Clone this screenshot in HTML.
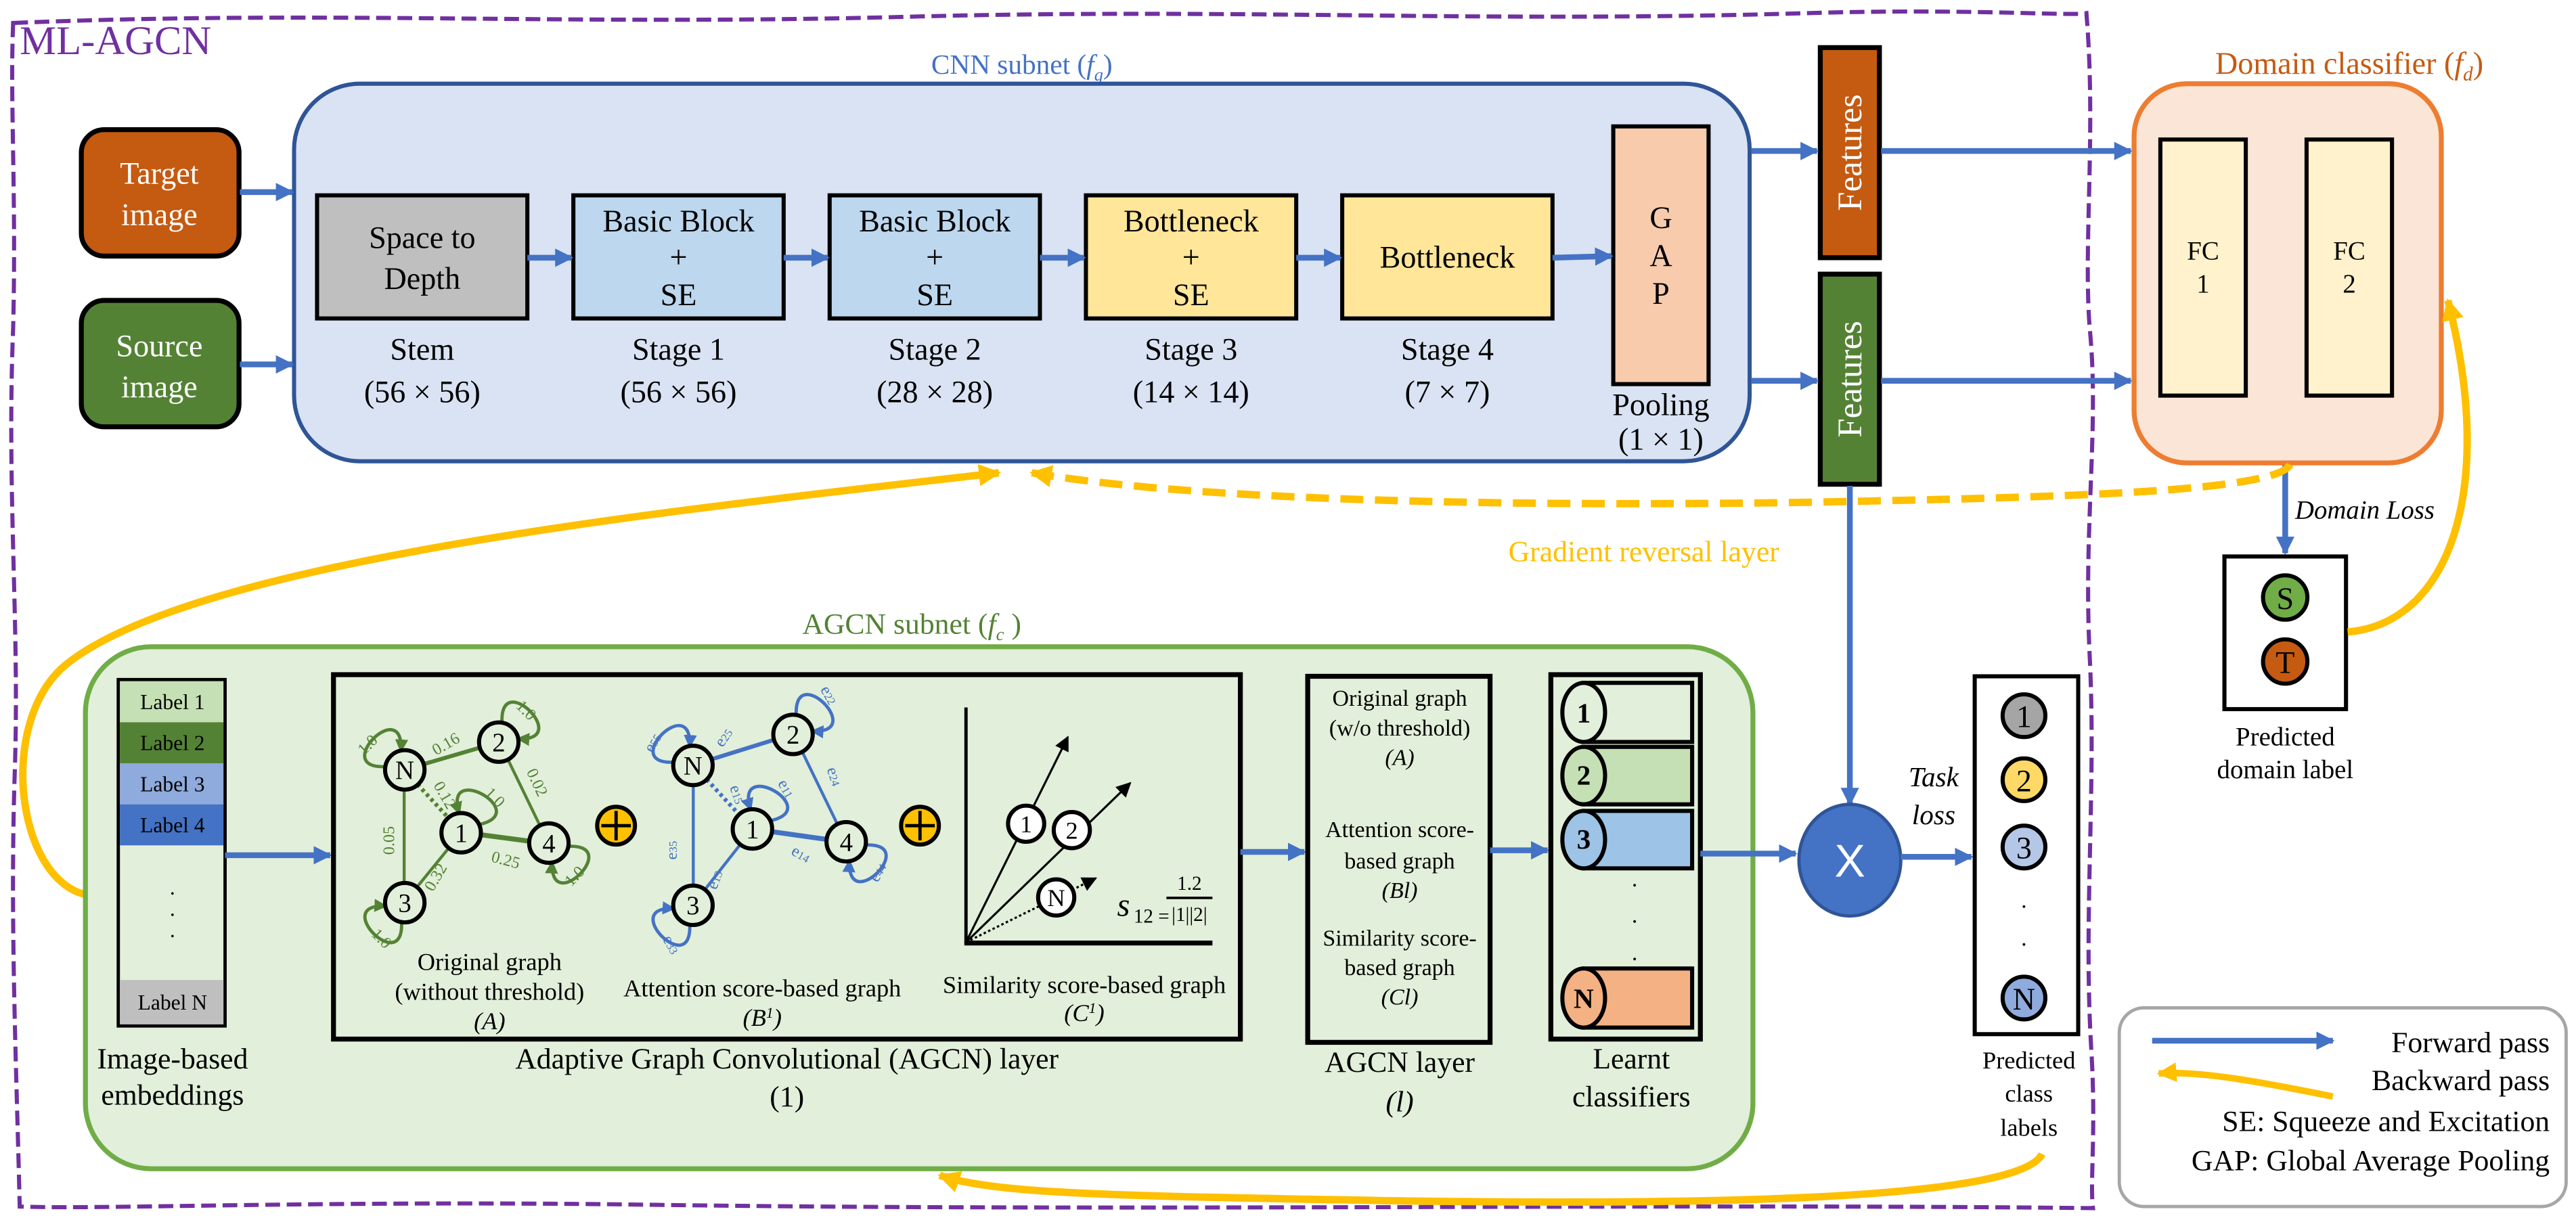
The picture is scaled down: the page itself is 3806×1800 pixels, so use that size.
<!DOCTYPE html>
<html><head><meta charset="utf-8"><style>
html,body{margin:0;padding:0;background:#fff;}
svg{display:block;}
svg text{font-family:"Liberation Serif","DejaVu Serif",serif !important;}
</style></head><body>
<svg width="3806" height="1800" viewBox="0 0 1568 742" preserveAspectRatio="none" xmlns="http://www.w3.org/2000/svg" font-family="Liberation Serif, serif">
<defs>
<marker id="ab" viewBox="0 0 10 10" refX="9" refY="5" markerWidth="3.2" markerHeight="3.2" orient="auto" markerUnits="strokeWidth"><path d="M0,0 L10,5 L0,10 z" fill="#4472C4"/></marker>
<marker id="ay" viewBox="0 0 10 10" refX="9" refY="5" markerWidth="3" markerHeight="3" orient="auto" markerUnits="strokeWidth"><path d="M0,0 L10,5 L0,10 z" fill="#FFC000"/></marker>
<marker id="ag" viewBox="0 0 10 10" refX="9" refY="5" markerWidth="4" markerHeight="4" orient="auto" markerUnits="strokeWidth"><path d="M0,0 L10,5 L0,10 z" fill="#548235"/></marker>
<marker id="al" viewBox="0 0 10 10" refX="9" refY="5" markerWidth="4" markerHeight="4" orient="auto" markerUnits="strokeWidth"><path d="M0,0 L10,5 L0,10 z" fill="#4472C4"/></marker>
<marker id="ak" viewBox="0 0 10 10" refX="9" refY="5" markerWidth="7" markerHeight="7" orient="auto" markerUnits="strokeWidth"><path d="M0,0 L10,5 L0,10 z" fill="#000"/></marker>
</defs>

<path d="M8,14 C200,6 350,16 560,10 C760,5 900,14 1100,8 C1200,5 1260,10 1270,8 C1276,80 1268,150 1272,200 C1278,260 1268,320 1272,400 C1276,480 1268,560 1273,640 C1276,690 1272,720 1274,736 C1000,733 700,738 400,734 C200,731 60,737 12,735 C10,650 6,560 9,470 C12,380 4,300 8,200 C10,120 6,60 8,14 Z" fill="none" stroke="#7030A0" stroke-width="2.5" stroke-dasharray="9,4"/>
<text x="12" y="33" font-size="25" fill="#7030A0">ML-AGCN</text>

<text x="622" y="45" font-size="17" fill="#4472C4" text-anchor="middle">CNN subnet (<tspan font-style="italic">f</tspan><tspan font-size="11" font-style="italic" dy="4">g</tspan><tspan dy="-4">)</tspan></text>
<rect x="179" y="51" width="886" height="230" rx="40" fill="#DAE3F3" stroke="#2F5597" stroke-width="2.5"/>

<rect x="49.5" y="79" width="96" height="77" rx="14" fill="#C55A11" stroke="#000" stroke-width="3"/>
<text x="97" y="112" font-size="19" fill="#fff" text-anchor="middle">Target</text>
<text x="97" y="137" font-size="19" fill="#fff" text-anchor="middle">image</text>
<rect x="49.5" y="183" width="96" height="77" rx="14" fill="#548235" stroke="#000" stroke-width="3"/>
<text x="97" y="217" font-size="19" fill="#fff" text-anchor="middle">Source</text>
<text x="97" y="242" font-size="19" fill="#fff" text-anchor="middle">image</text>
<line x1="146" y1="117" x2="178" y2="117" stroke="#4472C4" stroke-width="3.5" marker-end="url(#ab)"/>
<line x1="146" y1="222" x2="178" y2="222" stroke="#4472C4" stroke-width="3.5" marker-end="url(#ab)"/>

<g stroke="#000" stroke-width="2.5">
<rect x="193" y="119" width="128" height="75" fill="#BFBFBF"/>
<rect x="349" y="119" width="128" height="75" fill="#BDD7EE"/>
<rect x="505" y="119" width="128" height="75" fill="#BDD7EE"/>
<rect x="661" y="119" width="128" height="75" fill="#FFE699"/>
<rect x="817" y="119" width="128" height="75" fill="#FFE699"/>
<rect x="982" y="77" width="58" height="157" fill="#F8CBAD"/>
</g>
<g stroke="#4472C4" stroke-width="3.5" marker-end="url(#ab)">
<line x1="321" y1="157" x2="348" y2="157"/>
<line x1="477" y1="157" x2="504" y2="157"/>
<line x1="633" y1="157" x2="660" y2="157"/>
<line x1="789" y1="157" x2="816" y2="157"/>
<line x1="945" y1="157" x2="981" y2="156"/>
</g>
<g font-size="19" text-anchor="middle">
<text x="257" y="151">Space to</text><text x="257" y="176">Depth</text>
<text x="413" y="141">Basic Block</text><text x="413" y="163">+</text><text x="413" y="186">SE</text>
<text x="569" y="141">Basic Block</text><text x="569" y="163">+</text><text x="569" y="186">SE</text>
<text x="725" y="141">Bottleneck</text><text x="725" y="163">+</text><text x="725" y="186">SE</text>
<text x="881" y="163">Bottleneck</text>
<text x="1011" y="139">G</text><text x="1011" y="162">A</text><text x="1011" y="185">P</text>
<text x="257" y="219">Stem</text><text x="257" y="245">(56 × 56)</text>
<text x="413" y="219">Stage 1</text><text x="413" y="245">(56 × 56)</text>
<text x="569" y="219">Stage 2</text><text x="569" y="245">(28 × 28)</text>
<text x="725" y="219">Stage 3</text><text x="725" y="245">(14 × 14)</text>
<text x="881" y="219">Stage 4</text><text x="881" y="245">(7 × 7)</text>
<text x="1011" y="253">Pooling</text><text x="1011" y="274">(1 × 1)</text>
</g>

<rect x="1108" y="29" width="36" height="128" fill="#C55A11" stroke="#000" stroke-width="3"/>
<rect x="1108" y="167" width="36" height="128" fill="#548235" stroke="#000" stroke-width="3"/>
<text transform="translate(1133,93) rotate(-90)" font-size="21" fill="#fff" text-anchor="middle">Features</text>
<text transform="translate(1133,231) rotate(-90)" font-size="21" fill="#fff" text-anchor="middle">Features</text>
<g stroke="#4472C4" stroke-width="3.5" marker-end="url(#ab)">
<line x1="1066" y1="92" x2="1106" y2="92"/>
<line x1="1066" y1="232" x2="1106" y2="232"/>
<line x1="1145" y1="92" x2="1297" y2="92"/>
<line x1="1145" y1="232" x2="1297" y2="232"/>
<line x1="1126" y1="296" x2="1126" y2="490"/>
<line x1="1391" y1="283" x2="1391" y2="337"/>
</g>

<text x="1430" y="45" font-size="19" fill="#C55A11" text-anchor="middle">Domain classifier (<tspan font-style="italic">f</tspan><tspan font-size="12" font-style="italic" dy="4">d</tspan><tspan dy="-4">)</tspan></text>
<rect x="1299" y="51" width="187" height="231" rx="32" fill="#FBE5D6" stroke="#ED7D31" stroke-width="3"/>
<rect x="1315" y="85" width="52" height="156" fill="#FFF2CC" stroke="#000" stroke-width="2.5"/>
<rect x="1404" y="85" width="52" height="156" fill="#FFF2CC" stroke="#000" stroke-width="2.5"/>
<g font-size="16" text-anchor="middle"><text x="1341" y="158">FC</text><text x="1341" y="178">1</text><text x="1430" y="158">FC</text><text x="1430" y="178">2</text></g>
<text x="1397" y="316" font-size="16" font-style="italic">Domain Loss</text>
<rect x="1354" y="339" width="74" height="93" fill="#fff" stroke="#000" stroke-width="2.5"/>
<circle cx="1391" cy="364" r="13.5" fill="#70AD47" stroke="#000" stroke-width="2.5"/>
<circle cx="1391" cy="403" r="13.5" fill="#C55A11" stroke="#000" stroke-width="2.5"/>
<text x="1391" y="371" font-size="19" text-anchor="middle">S</text>
<text x="1391" y="410" font-size="19" text-anchor="middle">T</text>
<text x="1391" y="454" font-size="16" text-anchor="middle">Predicted</text>
<text x="1391" y="474" font-size="16" text-anchor="middle">domain label</text>
<path d="M1429,385 C1490,380 1520,300 1490,183" fill="none" stroke="#FFC000" stroke-width="4.5" marker-end="url(#ay)"/>

<path d="M1394,283 C1385,300 1250,303 1100,306 C900,309 720,304 628,288" fill="none" stroke="#FFC000" stroke-width="4.5" stroke-dasharray="14,7" marker-end="url(#ay)"/>
<text x="1083" y="342" font-size="18" fill="#FFC000" text-anchor="end">Gradient reversal layer</text>
<path d="M52,545 C10,535 -2,440 40,405 C120,340 420,310 608,288" fill="none" stroke="#FFC000" stroke-width="4.5" marker-end="url(#ay)"/>

<text x="555" y="386" font-size="18" fill="#548235" text-anchor="middle">AGCN subnet (<tspan font-style="italic">f</tspan><tspan font-size="11" font-style="italic" dy="4">c</tspan><tspan dy="-4"> )</tspan></text>
<rect x="52" y="394" width="1015" height="318" rx="40" fill="#E2EFDA" stroke="#70AD47" stroke-width="3"/>

<rect x="72" y="414" width="65" height="211" fill="#E2EFDA" stroke="#000" stroke-width="2"/>
<rect x="73" y="415" width="63" height="25" fill="#C5E0B4"/>
<rect x="73" y="440" width="63" height="25" fill="#548235"/>
<rect x="73" y="465" width="63" height="25" fill="#8FAADC"/>
<rect x="73" y="490" width="63" height="25" fill="#4472C4"/>
<rect x="73" y="597" width="63" height="27" fill="#BFBFBF"/>
<g font-size="13" text-anchor="middle">
<text x="105" y="432">Label 1</text><text x="105" y="457">Label 2</text><text x="105" y="482">Label 3</text><text x="105" y="507">Label 4</text><text x="105" y="615">Label N</text>
<text x="105" y="545">.</text><text x="105" y="558">.</text><text x="105" y="571">.</text>
</g>
<text x="105" y="651" font-size="18" text-anchor="middle">Image-based</text>
<text x="105" y="673" font-size="18" text-anchor="middle">embeddings</text>
<line x1="137" y1="521" x2="201" y2="521" stroke="#4472C4" stroke-width="3.5" marker-end="url(#ab)"/>

<rect x="203" y="411" width="552" height="222" fill="#E2EFDA" stroke="#000" stroke-width="3"/>

<g stroke="#548235" fill="none">
<line x1="246" y1="469" x2="304" y2="452" stroke-width="2.5"/>
<line x1="246" y1="469" x2="281" y2="507" stroke-width="2.5" stroke-dasharray="2,2"/>
<line x1="246" y1="469" x2="246" y2="550" stroke-width="1.8"/>
<line x1="304" y1="452" x2="334" y2="514" stroke-width="1.8"/>
<line x1="281" y1="507" x2="334" y2="514" stroke-width="3"/>
<line x1="281" y1="507" x2="246" y2="550" stroke-width="1.8"/>
<g stroke-width="2" marker-end="url(#ag)">
<path d="M234.7,467 C200.4,468.7 246.4,422.7 244,457.7"/>
<path d="M305.6,440.7 C303.6,406 349.6,452.1 315,450"/>
<path d="M291.1,502.4 C325.1,495.4 268.8,462.9 279.7,495.8"/>
<path d="M345.4,515.6 C380.1,513.6 334.1,559.6 336.1,524.9"/>
<path d="M244.4,561.3 C246.4,595.9 200.4,549.9 235.1,552"/>
</g></g>
<g font-size="10" fill="#548235" text-anchor="middle">
<text transform="translate(273,456) rotate(-30)">0.16</text>
<text transform="translate(268,486) rotate(60)">0.12</text>
<text transform="translate(240,512) rotate(-90)">0.05</text>
<text transform="translate(324,478) rotate(65)">0.02</text>
<text transform="translate(307,527) rotate(15)">0.25</text>
<text transform="translate(268,536) rotate(-60)">0.32</text>
<text transform="translate(226,456) rotate(-45)">1.0</text>
<text transform="translate(318,435) rotate(45)">1.0</text>
<text transform="translate(299,488) rotate(45)">1.0</text>
<text transform="translate(352,536) rotate(-45)">1.0</text>
<text transform="translate(230,574) rotate(45)">1.0</text>
</g>
<g fill="#E2EFDA" stroke="#000" stroke-width="2.5">
<circle cx="246.4" cy="469" r="12"/><circle cx="303.6" cy="452.1" r="12"/><circle cx="280.7" cy="507.3" r="12"/><circle cx="334.1" cy="513.6" r="12"/><circle cx="246.4" cy="549.9" r="12"/>
</g>
<g font-size="16" text-anchor="middle">
<text x="246.4" y="474.5">N</text><text x="303.6" y="457.6">2</text><text x="280.7" y="512.8">1</text><text x="334.1" y="519.1">4</text><text x="246.4" y="555.4">3</text>
</g>

<g stroke="#4472C4" fill="none">
<line x1="422" y1="466" x2="483" y2="447" stroke-width="2.5"/>
<line x1="422" y1="466" x2="458" y2="505" stroke-width="2.5" stroke-dasharray="2,2"/>
<line x1="422" y1="466" x2="422" y2="551" stroke-width="1.8"/>
<line x1="483" y1="447" x2="515" y2="513" stroke-width="1.8"/>
<line x1="458" y1="505" x2="515" y2="513" stroke-width="3"/>
<line x1="458" y1="505" x2="422" y2="551" stroke-width="1.8"/>
<g stroke-width="2" marker-end="url(#al)">
<path d="M410.5,464.3 C375.8,466.3 421.8,420.3 419.8,455"/>
<path d="M484.7,436.1 C482.7,401.4 528.7,447.4 494,445.4"/>
<path d="M468.4,500.1 C502.4,493.1 446.1,460.6 457,493.5"/>
<path d="M526.4,514.8 C561.1,512.8 515.1,558.8 517.1,524.1"/>
<path d="M419.8,562.8 C421.8,597.5 375.8,551.5 410.5,553.5"/>
</g></g>
<g font-size="10" fill="#4472C4" text-anchor="middle">
<text transform="translate(443,451) rotate(-55)">e<tspan font-size="7">25</tspan></text>
<text transform="translate(446,485) rotate(70)">e<tspan font-size="7">15</tspan></text>
<text transform="translate(412,518) rotate(-90)">e<tspan font-size="7">35</tspan></text>
<text transform="translate(505,474) rotate(72)">e<tspan font-size="7">24</tspan></text>
<text transform="translate(486,523) rotate(30)">e<tspan font-size="7">14</tspan></text>
<text transform="translate(438,537) rotate(-70)">e<tspan font-size="7">13</tspan></text>
<text transform="translate(400,454) rotate(-60)">e<tspan font-size="7">55</tspan></text>
<text transform="translate(502,425) rotate(60)">e<tspan font-size="7">22</tspan></text>
<text transform="translate(476,482) rotate(60)">e<tspan font-size="7">11</tspan></text>
<text transform="translate(537,533) rotate(-60)">e<tspan font-size="7">44</tspan></text>
<text transform="translate(406,577) rotate(60)">e<tspan font-size="7">33</tspan></text>
</g>
<g fill="#E2EFDA" stroke="#000" stroke-width="2.5">
<circle cx="421.8" cy="466.3" r="12"/><circle cx="482.7" cy="447.4" r="12"/><circle cx="458" cy="505" r="12"/><circle cx="515.1" cy="512.8" r="12"/><circle cx="421.8" cy="551.5" r="12"/>
</g>
<g font-size="16" text-anchor="middle">
<text x="421.8" y="471.8">N</text><text x="482.7" y="452.9">2</text><text x="458" y="510.5">1</text><text x="515.1" y="518.3">4</text><text x="421.8" y="557">3</text>
</g>

<g stroke="#000" stroke-width="2.5">
<circle cx="375" cy="503" r="11.5" fill="#FFC000"/><path d="M366,503 H384 M375,494 V512" fill="none" stroke-width="2"/>
<circle cx="560" cy="503" r="11.5" fill="#FFC000"/><path d="M551,503 H569 M560,494 V512" fill="none" stroke-width="2"/>
<circle cx="852" cy="481" r="11.5" fill="#FFC000"/><path d="M843,481 H861 M852,472 V490" fill="none" stroke-width="2"/>
<circle cx="852" cy="563" r="11.5" fill="#FFC000"/><path d="M843,563 H861 M852,554 V572" fill="none" stroke-width="2"/>
</g>

<line x1="588" y1="431" x2="588" y2="575" stroke="#000" stroke-width="2"/>
<line x1="587" y1="574.5" x2="738" y2="574.5" stroke="#000" stroke-width="3"/>
<line x1="588" y1="574" x2="650" y2="449" stroke="#000" stroke-width="1.3" marker-end="url(#ak)"/>
<line x1="588" y1="574" x2="688" y2="477" stroke="#000" stroke-width="1.3" marker-end="url(#ak)"/>
<line x1="588" y1="574" x2="667" y2="535" stroke="#000" stroke-width="1.3" stroke-dasharray="1.5,1.5" marker-end="url(#ak)"/>
<g fill="#fff" stroke="#000" stroke-width="2.5">
<circle cx="624.6" cy="501.8" r="11"/><circle cx="652.4" cy="505.7" r="11"/><circle cx="642.9" cy="546.7" r="11"/>
</g>
<g font-size="15" text-anchor="middle">
<text x="624.6" y="507">1</text><text x="652.4" y="511">2</text><text x="642.9" y="552">N</text>
</g>
<text x="680" y="558" font-size="20" font-style="italic">s</text>
<text x="690" y="562" font-size="12">12 =</text>
<text x="724" y="542" font-size="12" text-anchor="middle">1.2</text>
<line x1="710" y1="547" x2="738" y2="547" stroke="#000" stroke-width="1.5"/>
<text x="724" y="561" font-size="12" text-anchor="middle">|1||2|</text>

<g font-size="15" text-anchor="middle">
<text x="298" y="591">Original graph</text><text x="298" y="609">(without threshold)</text><text x="298" y="627" font-style="italic">(A)</text>
<text x="464" y="607">Attention score-based graph</text><text x="464" y="625" font-style="italic">(B<tspan font-size="9" dy="-5">1</tspan><tspan dy="5">)</tspan></text>
<text x="660" y="605">Similarity score-based graph</text><text x="660" y="622" font-style="italic">(C<tspan font-size="9" dy="-5">1</tspan><tspan dy="5">)</tspan></text>
</g>
<text x="479" y="651" font-size="18" text-anchor="middle">Adaptive Graph Convolutional (AGCN) layer</text>
<text x="479" y="674" font-size="18" text-anchor="middle">(1)</text>

<line x1="755" y1="519" x2="794" y2="519" stroke="#4472C4" stroke-width="3.5" marker-end="url(#ab)"/>

<rect x="796" y="412" width="111" height="223" fill="#E2EFDA" stroke="#000" stroke-width="3"/>
<g font-size="14" text-anchor="middle">
<text x="852" y="430">Original graph</text><text x="852" y="448">(w/o threshold)</text><text x="852" y="466" font-style="italic">(A)</text>
<text x="852" y="510">Attention score-</text><text x="852" y="529">based graph</text><text x="852" y="547" font-style="italic">(Bl)</text>
<text x="852" y="576">Similarity score-</text><text x="852" y="594">based graph</text><text x="852" y="612" font-style="italic">(Cl)</text>
</g>
<text x="852" y="653" font-size="18" text-anchor="middle">AGCN layer</text>
<text x="852" y="677" font-size="18" text-anchor="middle" font-style="italic">(l)</text>
<line x1="907" y1="518" x2="942" y2="518" stroke="#4472C4" stroke-width="3.5" marker-end="url(#ab)"/>

<rect x="944" y="411" width="91" height="222" fill="#E2EFDA" stroke="#000" stroke-width="3"/>
<g stroke="#000" stroke-width="2.5">
<rect x="964" y="416" width="66" height="36" fill="#E2EFDA"/><ellipse cx="964" cy="434" rx="13" ry="18" fill="#E2EFDA"/>
<rect x="964" y="455" width="66" height="35" fill="#C5E0B4"/><ellipse cx="964" cy="472.5" rx="13" ry="17.5" fill="#C5E0B4"/>
<rect x="964" y="494" width="66" height="35" fill="#9DC3E6"/><ellipse cx="964" cy="511.5" rx="13" ry="17.5" fill="#9DC3E6"/>
<rect x="964" y="590" width="66" height="36" fill="#F4B183"/><ellipse cx="964" cy="608" rx="13" ry="18" fill="#F4B183"/>
</g>
<g font-size="17" font-weight="bold" text-anchor="middle">
<text x="964" y="440">1</text><text x="964" y="478">2</text><text x="964" y="517">3</text><text x="964" y="614">N</text>
</g>
<g font-size="14" text-anchor="middle"><text x="995" y="540">.</text><text x="995" y="562">.</text><text x="995" y="585">.</text></g>
<text x="993" y="651" font-size="18" text-anchor="middle">Learnt</text>
<text x="993" y="674" font-size="18" text-anchor="middle">classifiers</text>
<line x1="1035" y1="520" x2="1093" y2="520" stroke="#4472C4" stroke-width="3.5" marker-end="url(#ab)"/>

<ellipse cx="1126" cy="524" rx="31" ry="34" fill="#4472C4" stroke="#2F5597" stroke-width="2"/>
<text x="1126" y="534" font-size="28" fill="#fff" text-anchor="middle" font-family="Liberation Sans, sans-serif" style="font-family:'Liberation Sans',sans-serif !important">X</text>
<text x="1177" y="479" font-size="17" font-style="italic" text-anchor="middle">Task</text>
<text x="1177" y="502" font-size="17" font-style="italic" text-anchor="middle">loss</text>
<line x1="1157" y1="522" x2="1200" y2="522" stroke="#4472C4" stroke-width="3.5" marker-end="url(#ab)"/>

<rect x="1202" y="412" width="63" height="218" fill="#fff" stroke="#000" stroke-width="2.5"/>
<g stroke="#000" stroke-width="2.5">
<circle cx="1232" cy="436" r="13" fill="#A5A5A5"/><circle cx="1232" cy="475" r="13" fill="#FFD966"/><circle cx="1232" cy="516" r="13" fill="#B4C7E7"/><circle cx="1232" cy="608" r="13" fill="#8FAADC"/>
</g>
<g font-size="19" text-anchor="middle">
<text x="1232" y="443">1</text><text x="1232" y="482">2</text><text x="1232" y="523">3</text><text x="1232" y="615">N</text>
<text x="1232" y="553" font-size="14">.</text><text x="1232" y="576" font-size="14">.</text>
</g>
<g font-size="15" text-anchor="middle"><text x="1235" y="651">Predicted</text><text x="1235" y="671">class</text><text x="1235" y="692">labels</text></g>

<path d="M1243,703 C1225,740 900,733 720,729 C640,727 595,724 572,716" fill="none" stroke="#FFC000" stroke-width="4.5" marker-end="url(#ay)"/>

<rect x="1290" y="614" width="272" height="121" rx="15" fill="#fff" stroke="#A6A6A6" stroke-width="2"/>
<line x1="1310" y1="634" x2="1420" y2="634" stroke="#4472C4" stroke-width="3.5" marker-end="url(#ab)"/>
<path d="M1420,668 C1380,660 1340,652 1314,654" fill="none" stroke="#FFC000" stroke-width="4" marker-end="url(#ay)"/>
<g font-size="18" text-anchor="end">
<text x="1552" y="641">Forward pass</text>
<text x="1552" y="664">Backward pass</text>
<text x="1552" y="689">SE: Squeeze and Excitation</text>
<text x="1552" y="713">GAP: Global Average Pooling</text>
</g>
</svg>
</body></html>
